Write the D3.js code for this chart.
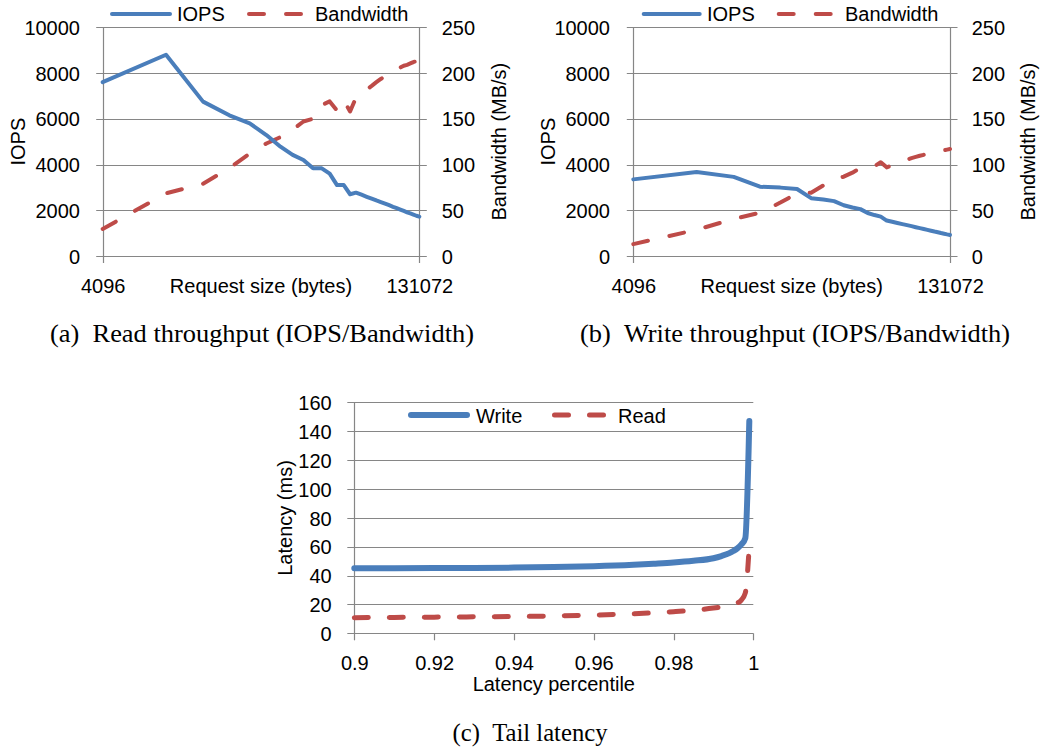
<!DOCTYPE html>
<html>
<head>
<meta charset="utf-8">
<script src="https://cdn.jsdelivr.net/npm/d3@7"></script>
<style>
  html, body { margin: 0; padding: 0; background: #fff; }
  svg { display: block; }
  .lbl { font-family: "Liberation Sans", Arial, sans-serif; font-size: 20px; fill: #000; }
  .cap { font-family: "Liberation Serif", "Times New Roman", serif; font-size: 26px; fill: #000; }
</style>
</head>
<body>
<svg id="chart" width="1040" height="749"></svg>
<script>
// ---------------- DATA ----------------
const requestSizes = [4096, 8192, 12288, 16384, 20480, 24576, 28672, 32768, 36864, 40960,
  45056, 49152, 53248, 57344, 61440, 65536, 69632, 73728, 77824, 81920, 86016, 90112,
  94208, 98304, 102400, 106496, 110592, 114688, 118784, 122880, 126976, 131072];

const readIOPS = [7600, 8800, 6750, 6150, 5800, 5290, 4780, 4420, 4200, 3835,
  3835, 3600, 3100, 3100, 2700, 2770, 2680, 2590, 2510, 2430, 2360, 2290,
  2220, 2150, 2090, 2030, 1970, 1910, 1860, 1810, 1760, 1720];
const readBandwidth = [29.5, 68.5, 79, 96, 112, 123, 130, 138, 147, 150,
  165, 169, 159, 170, 158, 173, 178, 182, 186, 190, 193.5, 196.5,
  199.5, 201.5, 204, 206, 208, 209, 210.5, 212, 213, 215];

const writeIOPS = [3350, 3670, 3460, 3030, 2990, 2930, 2530, 2470, 2400, 2220,
  2120, 2050, 1880, 1790, 1720, 1550, 1495, 1445, 1395, 1350, 1305, 1260,
  1220, 1180, 1140, 1105, 1070, 1040, 1005, 975, 945, 920];
const writeBandwidth = [13, 28.7, 40.5, 47.3, 58.4, 68.5, 69.2, 77.2, 84.4, 86.7,
  91.1, 96.1, 95.5, 98, 102.5, 96.9, 99.3, 101.6, 103.5, 105.3, 107, 108.3,
  109.6, 110.6, 111.5, 112.4, 113.2, 114, 114.8, 115.6, 116.3, 117];

const iopsTicks = [0, 2000, 4000, 6000, 8000, 10000];
const bandwidthTicks = [0, 50, 100, 150, 200, 250];
const sizeTicks = [4096, 131072];

const percentiles = [0.900, 0.910, 0.920, 0.930, 0.940, 0.950, 0.960, 0.970, 0.975, 0.980,
  0.985, 0.990, 0.992, 0.994, 0.995, 0.996, 0.997, 0.998, 0.999];
const writeLatency = [45.0, 45.1, 45.2, 45.3, 45.5, 45.9, 46.5, 47.5, 48.2, 49.0,
  50.2, 52.0, 53.5, 55.5, 57.0, 58.8, 61.5, 66.0, 147.0];
const readLatency = [10.8, 11.0, 11.2, 11.4, 11.6, 12.0, 12.6, 13.5, 14.2, 15.0,
  16.0, 17.5, 18.3, 19.3, 20.0, 21.0, 23.0, 28.0, 61.0];
const latencyTicks = [0, 20, 40, 60, 80, 100, 120, 140, 160];
const percentileTicks = [0.90, 0.92, 0.94, 0.96, 0.98, 1.00];
const percentileTickLabels = ["0.9", "0.92", "0.94", "0.96", "0.98", "1"];

// ---------------- STYLE ----------------
const BLUE = "#4a7ebb", RED = "#be4b48", GRID = "#868686";
const svg = d3.select("#chart");

function dualPanel(o) {
  const g = svg.append("g");
  const x = d3.scaleLog().base(2).domain([4096, 131072]).range([o.left, o.right]);
  const yL = d3.scaleLinear().domain([0, 10000]).range([o.bottom, o.top]);
  const yR = d3.scaleLinear().domain([0, 250]).range([o.bottom, o.top]);

  g.selectAll(".grid").data(iopsTicks).enter().append("line")
    .attr("x1", o.left - 6.5).attr("x2", o.right + 7.5)
    .attr("y1", d => Math.round(yL(d)) + 0.5).attr("y2", d => Math.round(yL(d)) + 0.5)
    .attr("stroke", GRID).attr("stroke-width", 1.2);
  g.selectAll(".vax").data(sizeTicks).enter().append("line")
    .attr("x1", d => Math.round(x(d)) + 0.5).attr("x2", d => Math.round(x(d)) + 0.5)
    .attr("y1", o.top).attr("y2", o.bottom + 7)
    .attr("stroke", GRID).attr("stroke-width", 1.2);

  const la = g.append("g").attr("transform", `translate(${o.leftLabelX},0)`)
    .call(d3.axisLeft(yL).tickValues(iopsTicks).tickSize(0).tickPadding(0).tickFormat(d3.format("d")));
  la.select(".domain").remove();
  la.selectAll("text").attr("class", "lbl").attr("x", 0).attr("dy", "0.36em").attr("text-anchor", "end");
  la.attr("font-size", null).attr("font-family", null);

  const ra = g.append("g").attr("transform", `translate(${o.rightLabelX},0)`)
    .call(d3.axisRight(yR).tickValues(bandwidthTicks).tickSize(0).tickPadding(0).tickFormat(d3.format("d")));
  ra.select(".domain").remove();
  ra.selectAll("text").attr("class", "lbl").attr("x", 0).attr("dy", "0.36em").attr("text-anchor", "start");
  ra.attr("font-size", null).attr("font-family", null);

  const xa = g.append("g").attr("transform", `translate(0,${o.xLabelY})`)
    .call(d3.axisBottom(x).tickValues(sizeTicks).tickSize(0).tickPadding(0).tickFormat(d3.format("d")));
  xa.select(".domain").remove();
  xa.selectAll("text").attr("class", "lbl").attr("y", 0).attr("dy", 0).attr("text-anchor", "middle");
  xa.attr("font-size", null).attr("font-family", null);

  g.append("text").attr("class", "lbl").attr("text-anchor", "middle")
    .attr("x", (o.left + o.right) / 2).attr("y", o.xLabelY).text("Request size (bytes)");
  g.append("text").attr("class", "lbl").attr("text-anchor", "middle")
    .attr("transform", `translate(${o.leftTitleX},${(o.top + o.bottom) / 2}) rotate(-90)`).text("IOPS");
  g.append("text").attr("class", "lbl").attr("text-anchor", "middle")
    .attr("transform", `translate(${o.rightTitleX},${(o.top + o.bottom) / 2}) rotate(-90)`).text("Bandwidth (MB/s)");

  const lineL = d3.line().x((d, i) => x(requestSizes[i])).y(d => yL(d));
  const lineR = d3.line().x((d, i) => x(requestSizes[i])).y(d => yR(d));
  g.append("path").attr("d", lineR(o.bw)).attr("fill", "none").attr("stroke", RED)
    .attr("stroke-width", 4).attr("stroke-dasharray", "15 22").attr("stroke-linecap", "round").attr("stroke-linejoin", "round");
  g.append("path").attr("d", lineL(o.iops)).attr("fill", "none").attr("stroke", BLUE)
    .attr("stroke-width", 4).attr("stroke-linecap", "round").attr("stroke-linejoin", "round");

  const lg = g.append("g");
  lg.append("line").attr("x1", o.leg[0] + 2).attr("x2", o.leg[1] - 2).attr("y1", 14).attr("y2", 14)
    .attr("stroke", BLUE).attr("stroke-width", 4).attr("stroke-linecap", "round");
  lg.append("text").attr("class", "lbl").attr("x", o.leg[2]).attr("y", 20.7).text("IOPS");
  lg.append("line").attr("x1", o.leg[3] + 2).attr("x2", o.leg[4] - 2).attr("y1", 14).attr("y2", 14)
    .attr("stroke", RED).attr("stroke-width", 4).attr("stroke-dasharray", "15 22").attr("stroke-linecap", "round");
  lg.append("text").attr("class", "lbl").attr("x", o.leg[5]).attr("y", 20.7).text("Bandwidth");

  g.append("text").attr("class", "cap").attr("text-anchor", "middle")
    .attr("x", o.capX).attr("y", 342).attr("textLength", o.capW).attr("lengthAdjust", "spacingAndGlyphs")
    .text(o.caption);
}

dualPanel({
  left: 102.7, right: 419.3, top: 27.3, bottom: 256,
  leftLabelX: 80, rightLabelX: 441.7, xLabelY: 292.7, leftTitleX: 25, rightTitleX: 506,
  iops: readIOPS, bw: readBandwidth,
  leg: [110, 172, 177, 247, 303, 315],
  caption: "(a)\u00a0\u00a0Read throughput (IOPS/Bandwidth)", capX: 262, capW: 424
});
dualPanel({
  left: 633.3, right: 950, top: 27.3, bottom: 256,
  leftLabelX: 610, rightLabelX: 971.7, xLabelY: 292.7, leftTitleX: 555, rightTitleX: 1035,
  iops: writeIOPS, bw: writeBandwidth,
  leg: [641.7, 701.7, 707, 776.7, 833, 845],
  caption: "(b)\u00a0\u00a0Write throughput (IOPS/Bandwidth)", capX: 795, capW: 430
});

// ---------------- PANEL (c) ----------------
(function () {
  const g = svg.append("g");
  const left = 354.3, right = 753.3, top = 402.3, bottom = 633.3;
  const x = d3.scaleLinear().domain([0.9, 1.0]).range([left, right]);
  const y = d3.scaleLinear().domain([0, 160]).range([bottom, top]);

  g.selectAll(".grid").data(latencyTicks).enter().append("line")
    .attr("x1", left - 7).attr("x2", right)
    .attr("y1", d => Math.round(y(d)) + 0.5).attr("y2", d => Math.round(y(d)) + 0.5)
    .attr("stroke", GRID).attr("stroke-width", 1.2);
  g.append("line").attr("x1", Math.round(left) + 0.5).attr("x2", Math.round(left) + 0.5)
    .attr("y1", top).attr("y2", bottom).attr("stroke", GRID).attr("stroke-width", 1.2);
  g.selectAll(".xt").data(percentileTicks).enter().append("line")
    .attr("x1", d => Math.round(x(d)) + 0.5).attr("x2", d => Math.round(x(d)) + 0.5)
    .attr("y1", bottom).attr("y2", bottom + 7).attr("stroke", GRID).attr("stroke-width", 1.2);

  const ya = g.append("g").attr("transform", "translate(331.7,0)")
    .call(d3.axisLeft(y).tickValues(latencyTicks).tickSize(0).tickPadding(0).tickFormat(d3.format("d")));
  ya.select(".domain").remove();
  ya.selectAll("text").attr("class", "lbl").attr("x", 0).attr("dy", "0.36em").attr("text-anchor", "end");
  ya.attr("font-size", null).attr("font-family", null);

  const xa = g.append("g").attr("transform", "translate(0,670)")
    .call(d3.axisBottom(x).tickValues(percentileTicks).tickSize(0).tickPadding(0)
      .tickFormat((d, i) => percentileTickLabels[i]));
  xa.select(".domain").remove();
  xa.selectAll("text").attr("class", "lbl").attr("y", 0).attr("dy", 0).attr("text-anchor", "middle");
  xa.attr("font-size", null).attr("font-family", null);

  g.append("text").attr("class", "lbl").attr("text-anchor", "middle")
    .attr("x", (left + right) / 2).attr("y", 691).text("Latency percentile");
  g.append("text").attr("class", "lbl").attr("text-anchor", "middle")
    .attr("transform", `translate(292,518) rotate(-90)`).text("Latency (ms)");

  const line = d3.line().x((d, i) => x(percentiles[i])).y(d => y(d)).curve(d3.curveMonotoneX);
  g.append("path").attr("d", line(readLatency)).attr("fill", "none").attr("stroke", RED)
    .attr("stroke-width", 5).attr("stroke-dasharray", "14 21").attr("stroke-linecap", "round").attr("stroke-linejoin", "round");
  g.append("path").attr("d", line(writeLatency)).attr("fill", "none").attr("stroke", BLUE)
    .attr("stroke-width", 6).attr("stroke-linecap", "round").attr("stroke-linejoin", "round");

  g.append("line").attr("x1", 411).attr("x2", 467).attr("y1", 415).attr("y2", 415)
    .attr("stroke", BLUE).attr("stroke-width", 6).attr("stroke-linecap", "round");
  g.append("text").attr("class", "lbl").attr("x", 476).attr("y", 423).text("Write");
  g.append("line").attr("x1", 554.5).attr("x2", 604.5).attr("y1", 415).attr("y2", 415)
    .attr("stroke", RED).attr("stroke-width", 5).attr("stroke-dasharray", "14 21").attr("stroke-linecap", "round");
  g.append("text").attr("class", "lbl").attr("x", 618).attr("y", 423).text("Read");

  g.append("text").attr("class", "cap").attr("text-anchor", "middle")
    .attr("x", 530).attr("y", 741).attr("textLength", 155).attr("lengthAdjust", "spacingAndGlyphs")
    .text("(c)\u00a0\u00a0Tail latency");
})();
</script>
</body>
</html>
